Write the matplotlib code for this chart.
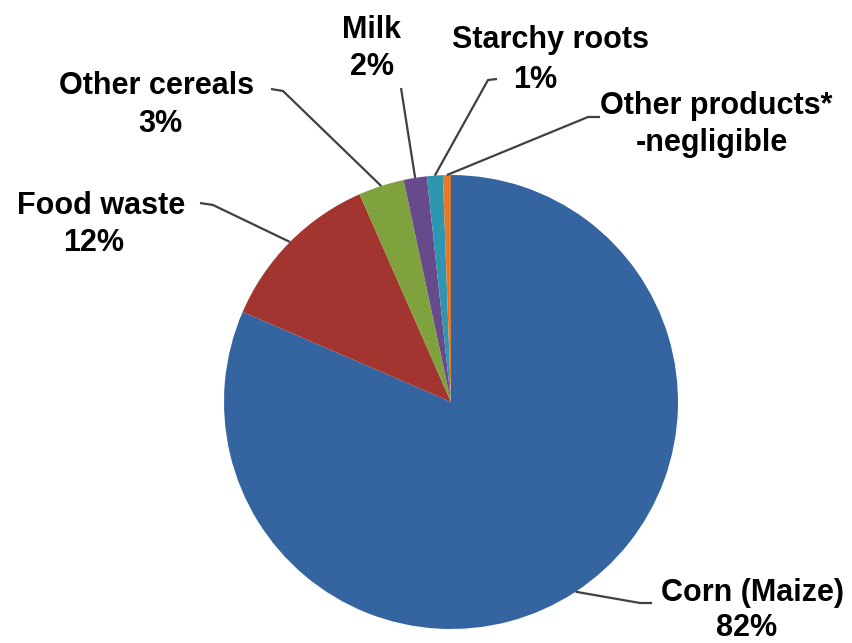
import numpy as np
import matplotlib
matplotlib.use("Agg")
import matplotlib.pyplot as plt

categories = ["Corn (Maize)", "Food waste", "Other cereals", "Milk", "Starchy roots", "Other products*"]
values = [81.5, 11.9, 3.25, 1.65, 1.13, 0.57]
value_labels = ["82%", "12%", "3%", "2%", "1%", "-negligible"]
colors = ["#3465A0", "#A2352F", "#7FA23F", "#674A8C", "#2F96B1", "#E47B2C"]

W, H = 853, 643
fig = plt.figure(figsize=(W / 100, H / 100), dpi=100)
ax = fig.add_axes([0, 0, 1, 1])

cx, cy, r = 451, H - 402, 227
wedges, _ = ax.pie(values, colors=colors, startangle=90, counterclock=False,
                   center=(cx, cy), radius=r, frame=True,
                   wedgeprops=dict(linewidth=0))
ax.set_xlim(0, W)
ax.set_ylim(0, H)
ax.set_aspect("equal")
ax.axis("off")

# layout in pixel coords (y from top)
layout = [
    dict(n=(753, 593), v=(747, 628), start=(652, 603), elbow=(640, 603), frac=0.5),
    dict(n=(101, 206), v=(94, 243), start=(200, 203), elbow=(213, 205), frac=0.5),
    dict(n=(157, 86), v=(160, 124), start=(271, 89), elbow=(283, 91), frac=0.5),
    dict(n=(372, 30), v=(372, 67), start=(401, 88), elbow=(401, 88), frac=0.5),
    dict(n=(551, 40), v=(535, 80), start=(497, 79), elbow=(488, 80), frac=0.5),
    dict(n=(716, 106), v=(712, 143), start=(600, 117), elbow=(588, 117), frac=0.5),
]

style = dict(ha="center", va="center", fontsize=22, fontweight="bold",
             family="Liberation Sans", color="black")

for w, name, val, lay in zip(wedges, categories, value_labels, layout):
    t1, t2 = w.theta1, w.theta2
    ang = np.deg2rad(t1 + (t2 - t1) * lay["frac"])
    ex, ey = cx + r * np.cos(ang), cy + r * np.sin(ang)
    sx, sy = lay["start"]
    bx, by = lay["elbow"]
    ax.plot([sx, bx, ex], [H - sy, H - by, ey], color="#404040", lw=1.6,
            solid_capstyle="butt", zorder=1)
    ax.text(lay["n"][0], H - lay["n"][1], name, **style)
    ax.text(lay["v"][0], H - lay["v"][1], val, **style)

fig.savefig("out.png", dpi=100)
